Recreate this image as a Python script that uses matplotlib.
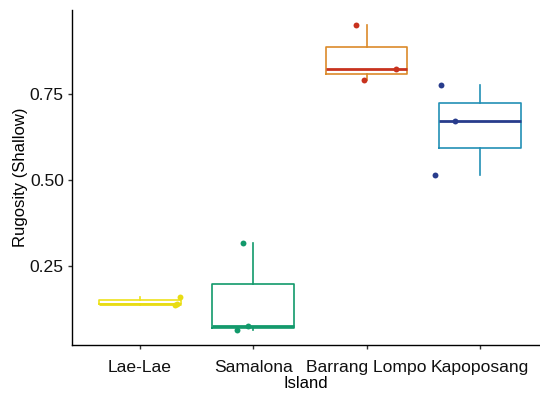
import matplotlib
matplotlib.use("Agg")
import matplotlib.pyplot as plt

plt.rcParams["font.family"] = ["Liberation Sans", "DejaVu Sans"]

islands = ["Lae-Lae", "Samalona", "Barrang Lompo", "Kapoposang"]
lae_lae = [0.160, 0.140, 0.136]
samalona = [0.317, 0.064, 0.075]
barrang_lompo = [0.950, 0.823, 0.790]
kapoposang = [0.776, 0.670, 0.515]
values = [lae_lae, samalona, barrang_lompo, kapoposang]
# horizontal jitter of the plotted points
jitter = [[0.35, 0.33, 0.31], [-0.09, -0.14, -0.05],
          [-0.09, 0.26, -0.02], [-0.34, -0.22, -0.40]]

box_colors = ["#EDE21B", "#12996B", "#DB8A2A", "#2290B5"]
point_colors = ["#E8DC14", "#12996B", "#C8321E", "#283C8C"]

fig = plt.figure(figsize=(5.4, 3.95), dpi=100)
ax = fig.add_axes([0.133, 0.127, 0.867, 0.848])

for i, (vals, bc, pc) in enumerate(zip(values, box_colors, point_colors)):
    pos = i + 1
    ax.boxplot([vals], positions=[pos], widths=0.72, showfliers=False,
               patch_artist=False,
               boxprops=dict(color=bc, linewidth=1.2),
               whiskerprops=dict(color=bc, linewidth=1.2),
               capprops=dict(linewidth=0),
               medianprops=dict(color=pc, linewidth=2.0))
    xs = [pos + j for j in jitter[i]]
    ax.scatter(xs, vals, s=18, color=pc, zorder=3, linewidths=0)

ax.set_xlim(0.4, 4.53)
ax.set_ylim(0.02, 0.994)
ax.set_xticks([1, 2, 3, 4])
ax.set_xticklabels(islands)
ax.set_yticks([0.25, 0.50, 0.75])
ax.set_yticklabels(["0.25", "0.50", "0.75"])

for s in ["top", "right"]:
    ax.spines[s].set_visible(False)
for s in ["left", "bottom"]:
    ax.spines[s].set_linewidth(1.0)
    ax.spines[s].set_color("black")
ax.tick_params(axis="both", length=2.8, width=1.0, color="#333333",
               labelsize=12.6, labelcolor="#111111")
ax.tick_params(axis="x", pad=8)
ax.tick_params(axis="y", pad=3)

ax.set_xlabel("Island", fontsize=12, labelpad=1)
ax.set_ylabel("Rugosity (Shallow)", fontsize=12)
ax.yaxis.set_label_coords(-0.094, 0.5)

fig.savefig("out.png", dpi=100)
